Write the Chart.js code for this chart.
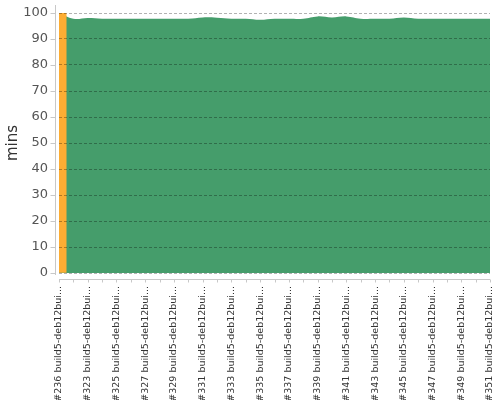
<!DOCTYPE html>
<html>
<head>
<meta charset="utf-8">
<script src="https://cdn.jsdelivr.net/npm/chart.js@4/dist/chart.umd.min.js"></script>
<style>
html,body{margin:0;padding:0;background:#fff;}
canvas{display:block;}
</style>
</head>
<body>
<canvas id="c" width="500" height="400"></canvas>
<script>
const buildLabels = ["#236 build5-deb12builder", "#322 build5-deb12builder", "#323 build5-deb12builder", "#324 build5-deb12builder", "#325 build5-deb12builder", "#326 build5-deb12builder", "#327 build5-deb12builder", "#328 build5-deb12builder", "#329 build5-deb12builder", "#330 build5-deb12builder", "#331 build5-deb12builder", "#332 build5-deb12builder", "#333 build5-deb12builder", "#334 build5-deb12builder", "#335 build5-deb12builder", "#336 build5-deb12builder", "#337 build5-deb12builder", "#338 build5-deb12builder", "#339 build5-deb12builder", "#340 build5-deb12builder", "#341 build5-deb12builder", "#342 build5-deb12builder", "#343 build5-deb12builder", "#344 build5-deb12builder", "#345 build5-deb12builder", "#346 build5-deb12builder", "#347 build5-deb12builder", "#348 build5-deb12builder", "#349 build5-deb12builder", "#350 build5-deb12builder", "#351 build5-deb12builder"];
const successMins = [100, 97.8, 98.1, 97.8, 97.8, 97.8, 97.8, 97.8, 97.8, 97.8, 98.3, 98.2, 97.8, 97.8, 97.4, 97.8, 97.8, 97.8, 98.7, 98.3, 98.7, 97.8, 97.8, 97.8, 98.3, 97.8, 97.8, 97.8, 97.8, 97.8, 97.8];
const unstableMins = [100, null, null, null, null, null, null, null, null, null, null, null, null, null, null, null, null, null, null, null, null, null, null, null, null, null, null, null, null, null, null];
const yTicks = [0, 10, 20, 30, 40, 50, 60, 70, 80, 90, 100];

const axisLines = {
  id: 'axisLines',
  afterDraw(chart) {
    const {ctx, chartArea: a, scales: {x, y}} = chart;
    ctx.save();
    ctx.strokeStyle = '#c8c8c8';
    ctx.lineWidth = 1;
    ctx.beginPath();
    const yx = Math.round(a.left - 4) + 0.5;
    ctx.moveTo(yx, a.top - 8);
    ctx.lineTo(yx, a.bottom + 2);
    y.ticks.forEach((t, i) => {
      const py = Math.round(y.getPixelForTick(i)) + 0.5;
      ctx.moveTo(yx - 5, py);
      ctx.lineTo(yx, py);
    });
    const xy = Math.round(a.bottom + 6) + 0.5;
    ctx.moveTo(a.left, xy);
    ctx.lineTo(a.right, xy);
    x.ticks.forEach((t, i) => {
      const px = Math.round(x.getPixelForTick(i)) + 0.5;
      ctx.moveTo(px, xy);
      ctx.lineTo(px, xy + 3);
    });
    ctx.stroke();
    ctx.restore();
  }
};

new Chart(document.getElementById('c'), {
  type: 'line',
  data: {
    labels: buildLabels,
    datasets: [
      {
        type: 'bar',
        label: 'Unstable',
        data: unstableMins,
        backgroundColor: '#fdad33',
        borderWidth: 0,
        categoryPercentage: 1,
        barPercentage: 1,
        order: 0
      },
      {
        type: 'line',
        label: 'Success',
        data: successMins,
        backgroundColor: '#459d6b',
        borderColor: '#459d6b',
        borderWidth: 0,
        pointRadius: 0,
        tension: 0.4,
        fill: 'origin',
        order: 1
      }
    ]
  },
  plugins: [axisLines],
  options: {
    responsive: false,
    animation: false,
    layout: {padding: {top: 13, right: 10, left: 0, bottom: 0}},
    plugins: {legend: {display: false}, tooltip: {enabled: false}},
    scales: {
      x: {
        type: 'category',
        offset: false,
        grid: {display: false, drawTicks: false, offset: false},
        border: {display: false},
        afterFit(s) { s.height = 127; s.paddingLeft = 0; s.paddingRight = 0; },
        ticks: {
          autoSkip: false,
          maxRotation: 90,
          minRotation: 90,
          padding: 13,
          color: '#333',
          font: {family: 'DejaVu Sans', size: 9.5},
          callback(value, index) {
            if (index % 2) return '';
            const s = buildLabels[index];
            return s.length > 20 ? s.slice(0, 20) + '...' : s;
          }
        }
      },
      y: {
        min: 0,
        max: 100,
        afterFit(s) { s.width = 59; s.paddingTop = 0; s.paddingBottom = 0; },
        afterBuildTicks(s) { s.ticks = yTicks.map(v => ({value: v})); },
        grid: {display: true, drawTicks: false, color: 'rgba(0,0,0,0.3)', z: 1},
        border: {display: false, dash: [3, 2]},
        ticks: {
          padding: 11,
          color: '#555',
          font: {family: 'DejaVu Sans', size: 13}
        },
        title: {
          display: true,
          text: 'mins',
          color: '#333',
          padding: {top: 4, bottom: 0},
          font: {family: 'DejaVu Sans', size: 15}
        }
      }
    }
  }
});
</script>
</body>
</html>
